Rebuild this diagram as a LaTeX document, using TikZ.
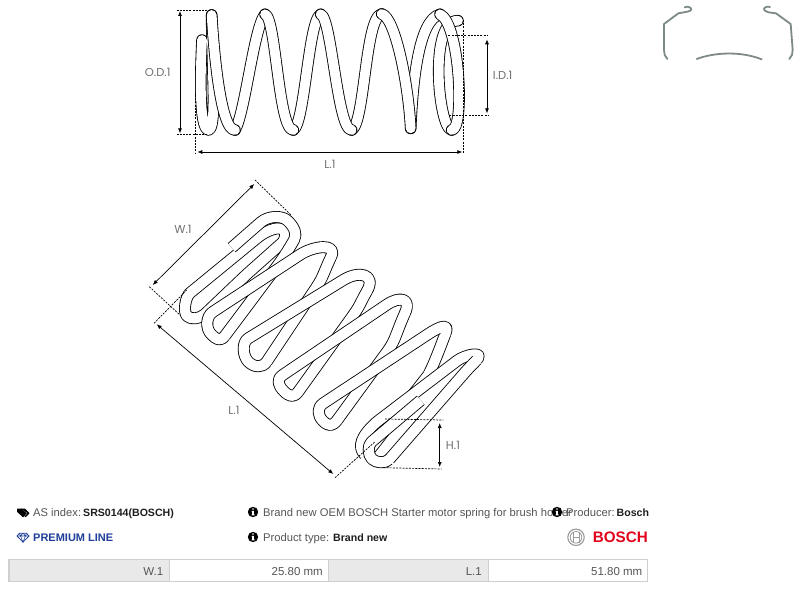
\documentclass[tikz,border=0pt]{standalone}
\usepackage{fontspec}
\setmainfont{Liberation Sans}
\newfontfamily\dimfont{Poppins}
\usetikzlibrary{calc,arrows.meta}
\definecolor{txtgray}{HTML}{555555}
\definecolor{txtdark}{HTML}{1E1E1E}
\definecolor{dimgray}{HTML}{707070}
\definecolor{premblue}{HTML}{1F3F9A}
\definecolor{boschred}{HTML}{E2001A}
\definecolor{cellgray}{HTML}{E9E9E9}
\definecolor{rulegray}{HTML}{CFCFCF}
\definecolor{clipgray}{HTML}{7E8A86}
\tikzset{
  wirebase/.style={draw=black,line width=.85pt,double=white,line join=round},
  wire/.style={wirebase,double distance=10.2pt,line cap=butt},
  topwire/.style={wirebase,double distance=9.8pt,line cap=round},
  dimline/.style={draw=black,line width=.7pt,{Latex[length=5pt,width=4pt]}-{Latex[length=5pt,width=4pt]}},
  dimdash/.style={draw=black,line width=.7pt,densely dashed,dash pattern=on 2pt off 1.2pt},
  dimlabel/.style={font=\dimfont\fontsize{11.5}{13}\selectfont,text=dimgray,inner sep=0pt},
  infolabel/.style={font=\fontsize{11.2}{14}\selectfont,text=txtgray,inner sep=0pt,anchor=base west},
  infobold/.style={font=\bfseries\fontsize{10.6}{14}\selectfont,text=txtdark,inner sep=0pt,anchor=base west},
  celltext/.style={font=\fontsize{11.5}{14}\selectfont,text=txtgray,inner sep=0pt,anchor=base east},
  clipwire/.style={draw=clipgray,line width=1.8pt,line cap=round,line join=round},
}
\newcommand{\fallstrand}[3]{\draw[wire] #1 .. controls ($#1!.5!#2$) and ($#2!-12pt!#3$) .. #2 -- #3;}
% #1 lower end of the falling strand, #2 a point up that strand, #3 bottom apex,
% #4,#5 straight part of the rising strand, #6 upper end of next falling strand, #7 a point down it, #8 size of the top bend
\newcommand{\risestrand}[8]{\draw[wire] #1 .. controls ($#1!-8pt!#2$) and ($#3+(5.5,5.5)$) .. #3 .. controls ($#3+(-5.5,-5.5)$) and ($#4!-8pt!#5$) .. #4 -- #5 .. controls ($#5!-#8pt!#4$) and ($#6!-#8pt!#7$) .. #6;}
\newcommand{\seam}[2]{\draw[white,line width=9.6pt] ($#1!1.5pt!#2$) -- ($#1!-1.5pt!#2$);}
\newcommand{\infoicon}[3]{\fill[black] (#2,#3) circle (5.2);
  \fill[white] (#2,#3-3) circle (.85);
  \fill[white] (#2-1.3,#3-1.2) -- (#2+.9,#3-1.2) -- (#2+.9,#3+2.4) -- (#2+1.5,#3+2.4) -- (#2+1.5,#3+3.4) -- (#2-1.5,#3+3.4) -- (#2-1.5,#3+2.4) -- (#2-.9,#3+2.4) -- (#2-.9,#3-.3) -- (#2-1.3,#3-.3) -- cycle;
  \coordinate (#1) at (#2,#3);}
\begin{document}
\begin{tikzpicture}[x=1pt,y=-1pt]
\fill[white] (0,0) rectangle (800,591);
\useasboundingbox (0,0) rectangle (800,591);

% ---------- top spring (coordinates in 3x crop units) ----------
\begin{scope}[shift={(130,0)},x=1/3*1pt,y=-1/3*1pt]
  \draw[topwire] (216,120) .. controls (212,200) and (205,385) .. (235,390) .. controls (262,390) and (245,200) .. (245,45);
  \draw[topwire] (965,390) .. controls (925,385) and (895,60) .. (984,62);
  \draw[topwire] (315,390) .. controls (345,340) and (372,80) .. (405,43);
  \draw[topwire] (490,390) .. controls (525,370) and (535,60) .. (572,43);
  \draw[topwire] (665,390) .. controls (705,370) and (705,50) .. (755,42);
  \draw[topwire] (842,385) .. controls (848,250) and (865,60) .. (930,43);
  \draw[topwire] (245,45) .. controls (250,130) and (270,392) .. (315,390);
  \draw[topwire] (405,43) .. controls (438,50) and (445,392) .. (490,390);
  \draw[topwire] (572,43) .. controls (605,50) and (622,392) .. (665,390);
  \draw[topwire] (755,42) .. controls (795,50) and (835,250) .. (842,385);
  \draw[topwire] (930,43) .. controls (990,70) and (1005,392) .. (965,390);
  \coordinate (odA) at (150,33); \coordinate (odB) at (150,400);
  \coordinate (odC) at (140,30); \coordinate (odD) at (235,30);
  \coordinate (odE) at (140,403); \coordinate (odF) at (232,403);
  \draw[dimdash] (odC) -- (odD); \draw[dimdash] (odE) -- (odF);
  \draw[dimline] (odA) -- (odB);
  \coordinate (idA) at (1071,118); \coordinate (idB) at (1071,340);
  \coordinate (idC) at (955,107); \coordinate (idD) at (1072,107);
  \coordinate (idE) at (958,346); \coordinate (idF) at (1075,346);
  \draw[dimdash] (idC) -- (idD); \draw[dimdash] (idE) -- (idF);
  \draw[dimline] (idA) -- (idB);
  \coordinate (lA) at (202,456); \coordinate (lB) at (997,456);
  \coordinate (lC) at (197,285); \coordinate (lD) at (197,463);
  \coordinate (lE) at (1000,60); \coordinate (lF) at (1000,463);
  \draw[dimdash] (lC) -- (lD); \draw[dimdash] (lE) -- (lF);
  \draw[dimline] (lA) -- (lB);
  \node[dimlabel] (odlabel) at (83,217) {O.D.1};
  \node[dimlabel] (idlabel) at (1118,226) {I.D.1};
  \node[dimlabel] (llabel) at (600,493) {L.1};
\end{scope}

% ---------- lower spring ----------
% inner teardrop of the first coil
\draw[wire] (256.7,238.3) -- (190,293) .. controls (185.4,296.8) and (183,312) .. (187,316) .. controls (191,320) and (200,318.8) .. (205,314) -- (246.7,274.3) -- (283.3,241.7) .. controls (292,222) and (270,227) .. (256.7,238.3);
% falling strands
\draw[wire] (231.7,247.7) -- (260.7,222.3) .. controls (268,215.9) and (282,215) .. (288,221) .. controls (294,227) and (297.6,234) .. (294,240) .. controls (290,247) and (284,257) .. (276.7,266.7) -- (225,335.7);
\fallstrand{(331,257)}{(316.7,286.7)}{(266.7,361.7)}
\fallstrand{(367,291)}{(353.3,315)}{(298.3,391.7)}
\fallstrand{(405,313)}{(388.3,350)}{(337.3,420)}
\draw[wire] (445.3,334) .. controls (441,345) and (435,362) .. (428.3,375) -- (368,452);
% rising strands
\risestrand{(225,335.7)}{(276.7,266.7)}{(211,334)}{(212.7,312)}{(300,254.7)}{(331,257)}{(316.7,286.7)}{16}
\risestrand{(266.7,361.7)}{(316.7,286.7)}{(248.3,361.7)}{(248.3,338.3)}{(343.3,280)}{(367,291)}{(353.3,315)}{19}
\risestrand{(298.3,391.7)}{(353.3,315)}{(283.7,391)}{(282.7,375)}{(386.7,304.7)}{(405,313)}{(388.3,350)}{16}
\risestrand{(337.3,420)}{(388.3,350)}{(323,421)}{(323.3,403.3)}{(428.3,334)}{(445.3,334)}{(428.3,375)}{13}
% last coil and tail
\draw[wire] (365,455) .. controls (357,447) and (361,436) .. (376.7,422) -- (456.7,361) .. controls (466,354) and (485,351) .. (476.7,360);
\fallstrand{(476.7,360)}{(462.7,375)}{(389.3,459.3)}
\draw[wire] (389.3,459.3) .. controls (385.2,463.7) and (376,463) .. (372,459) .. controls (368,455) and (367.1,445.6) .. (371.7,441.7) -- (420.7,400.3);
% close the small seams where strands meet
\seam{(225,335.7)}{(276.7,266.7)}
\seam{(266.7,361.7)}{(316.7,286.7)}
\seam{(298.3,391.7)}{(353.3,315)}
\seam{(337.3,420)}{(388.3,350)}
\seam{(331,257)}{(316.7,286.7)}
\seam{(367,291)}{(353.3,315)}
\seam{(405,313)}{(388.3,350)}
\seam{(445.3,334)}{(428.3,375)}
\seam{(476.7,360)}{(462.7,375)}
\seam{(389.3,459.3)}{(462.7,375)}

% dimensions of lower spring
\coordinate (wA) at (152.7,285); \coordinate (wB) at (254.3,184);
\coordinate (wC) at (255,180); \coordinate (wD) at (291.7,215.7);
\coordinate (wE) at (149.3,286.7); \coordinate (wF) at (180,315);
\draw[dimdash] (wC) -- (wD); \draw[dimdash] (wE) -- (wF);
\draw[dimline] (wA) -- (wB);
\coordinate (ldA) at (156.7,324.3); \coordinate (ldB) at (333.3,474);
\coordinate (ldC) at (154,323.3); \coordinate (ldD) at (186.7,290);
\coordinate (ldE) at (335,477.7); \coordinate (ldF) at (375,441.7);
\draw[dimdash] (ldC) -- (ldD); \draw[dimdash] (ldE) -- (ldF);
\draw[dimline] (ldA) -- (ldB);
\coordinate (hA) at (439.7,423); \coordinate (hB) at (439.7,467);
\coordinate (hC) at (385,419); \coordinate (hD) at (443.3,420);
\coordinate (hE) at (383.3,467.7); \coordinate (hF) at (441.7,469);
\draw[dimdash] (hC) -- (hD); \draw[dimdash] (hE) -- (hF);
\draw[dimline] (hA) -- (hB);
\node[dimlabel] (wlabel) at (183,229) {W.1};
\node[dimlabel] (ldlabel) at (234,410) {L.1};
\node[dimlabel] (hlabel) at (453,445) {H.1};

% ---------- clip, top right (3x crop units) ----------
\begin{scope}[shift={(650,0)},x=1/3*1pt,y=-1/3*1pt]
  \draw[clipwire] (52,177) .. controls (44,170) and (42,160) .. (42,150) -- (42,72) -- (85,40) -- (112,35) .. controls (128,33) and (128,22) .. (112,20) -- (104,22);
  \draw[clipwire] (418,177) .. controls (426,170) and (428,160) .. (428,150) -- (422,72) -- (378,40) -- (356,37) .. controls (338,33) and (338,22) .. (352,20) -- (360,21);
  \draw[clipwire] (140,177) .. controls (190,158) and (270,152) .. (335,178);
\end{scope}

% ---------- info rows ----------
\fill[black] (21,508.5) -- (25,508.5) -- (29.5,513.2) -- (25.6,517.3) -- (24.6,516.4) -- (27.5,513.2) -- cycle;
\fill[black] (17,508.5) -- (21.5,508.5) -- (26.8,513.4) -- (23,517.3) -- (17,511.8) -- cycle;
\node[infolabel] (asidx) at (33,516.5) {AS index:};
\node[infobold] (asval) at (83,516.5) {SRS0144(BOSCH)};
\draw[premblue,line width=.8pt,line join=round] (19.5,533.2) -- (26.5,533.2) -- (29,536) -- (23,542.2) -- (17,536) -- cycle;
\draw[premblue,line width=.6pt,line join=round] (17,536) -- (29,536) (20.5,536) -- (23,542.2) -- (25.5,536) (19.5,533.2) -- (20.5,536) -- (23,533.2) -- (25.5,536) -- (26.5,533.2);
\node[infolabel,font=\bfseries\fontsize{11}{14}\selectfont,text=premblue] (prem) at (33,541.5) {PREMIUM LINE};
\infoicon{infoA}{253}{512}
\node[infolabel] (desc) at (263,516.5) {Brand new OEM BOSCH Starter motor spring for brush holder};
\infoicon{infoB}{253}{537}
\node[infolabel] (ptype) at (263,541.5) {Product type:};
\node[infobold] (ptval) at (333,541.5) {Brand new};
\infoicon{infoC}{557}{512}
\node[infolabel] (prod) at (566,516.5) {Producer:};
\node[infobold] (prodval) at (616.5,516.5) {Bosch};
% logo
\draw[gray!80,line width=1.1pt] (576,537.3) circle (8.2);
\draw[gray!80,line width=.8pt] (576,537.3) circle (5.8);
\draw[gray!80,line width=.8pt] (573,532) -- (573,542.6) (579,532) -- (579,542.6) (573,537.3) -- (579,537.3);
\node[inner sep=0pt,anchor=base east,text=boschred,font=\bfseries\fontsize{15.2}{18}\selectfont] (bosch) at (648,542.8) {BOSCH};

% ---------- table ----------
\fill[cellgray] (9,559.5) rectangle (169,581.5);
\fill[cellgray] (329,559.5) rectangle (488,581.5);
\draw[rulegray,line width=1.6pt] (9,559.5) rectangle (647.5,581.5);
\draw[rulegray,line width=1pt] (169.5,559.5) -- (169.5,581.5) (328.5,559.5) -- (328.5,581.5) (488.5,559.5) -- (488.5,581.5);
\node[celltext] (c1) at (163.5,575) {W.1};
\node[celltext] (c2) at (323,575) {25.80 mm};
\node[celltext] (c3) at (482,575) {L.1};
\node[celltext] (c4) at (642.5,575) {51.80 mm};
\end{tikzpicture}
\end{document}
